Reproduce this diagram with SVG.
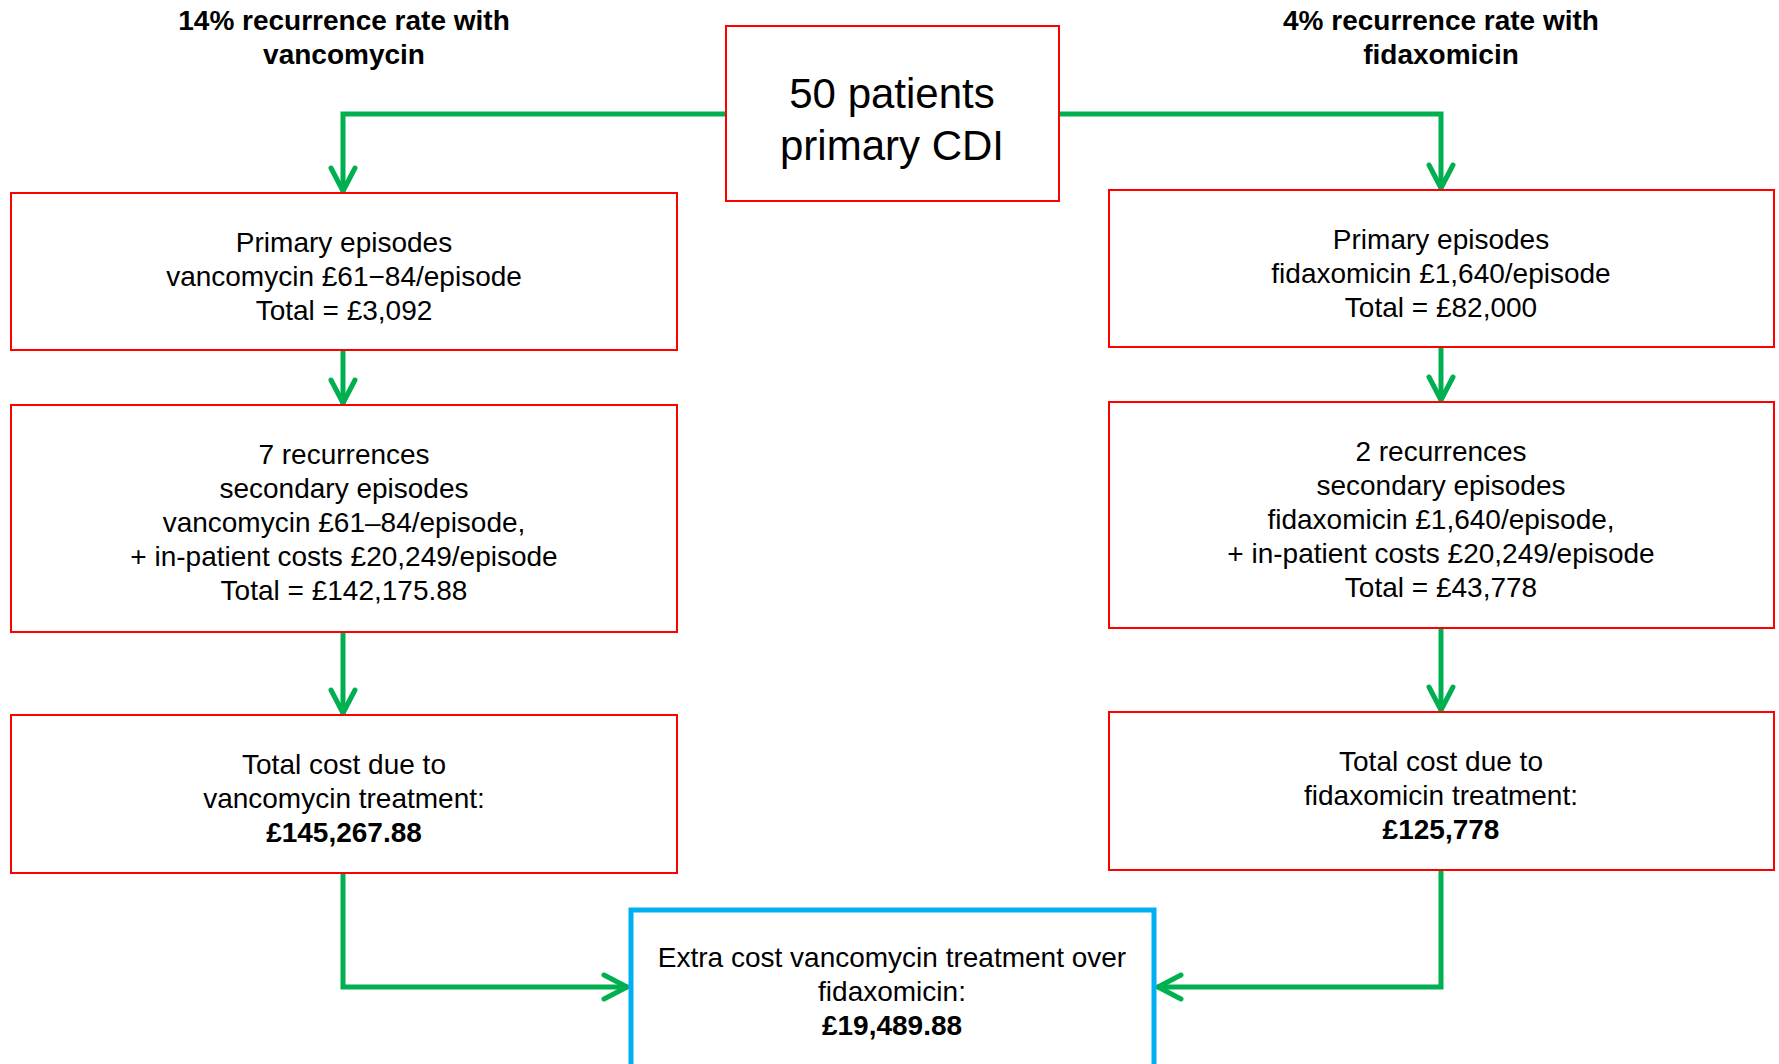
<svg xmlns="http://www.w3.org/2000/svg" width="1779" height="1064" viewBox="0 0 1779 1064">
<style>
.box{fill:#fff;stroke:#FF0000;stroke-width:2}
.blue{fill:#fff;stroke:#00B0F0;stroke-width:5}
.t{font-family:"Liberation Sans",Arial,sans-serif;font-size:28px;fill:#000;text-anchor:middle}
.b{font-weight:bold}
.big{font-size:42px}
.c{fill:none;stroke:#00B050;stroke-width:5;marker-end:url(#ah)}
</style>
<defs>
<marker id="ah" markerUnits="userSpaceOnUse" markerWidth="40" markerHeight="40" viewBox="-30 -20 40 40" refX="0" refY="0" orient="auto" overflow="visible">
<path d="M-24,-12 L-1,0 L-24,12" fill="none" stroke="#00B050" stroke-width="5" stroke-linecap="round" stroke-linejoin="round"/>
</marker>
</defs>
<rect width="1779" height="1064" fill="#fff"/>
<g id="connectors">
<polyline class="c" points="726,114 343,114 343,192"/>
<polyline class="c" points="1059,114 1441,114 1441,189"/>
<polyline class="c" points="343,351 343,404"/>
<polyline class="c" points="1441,348 1441,401"/>
<polyline class="c" points="343,632 343,714"/>
<polyline class="c" points="1441,629 1441,711"/>
<polyline class="c" points="343,873 343,987 628,987"/>
<polyline class="c" points="1441,870 1441,987 1157,987"/>
</g>
<g id="header-left"><text class="t b" x="344" y="30">14% recurrence rate with</text><text class="t b" x="344" y="64">vancomycin</text></g>
<g id="header-right"><text class="t b" x="1441" y="30">4% recurrence rate with</text><text class="t b" x="1441" y="64">fidaxomicin</text></g>
<g id="start"><rect class="box" x="726" y="26" width="333" height="175"/><text class="t big" x="892" y="108">50 patients</text><text class="t big" x="892" y="160">primary CDI</text></g>
<g id="v-primary"><rect class="box" x="11" y="193" width="666" height="157"/><text class="t" x="344" y="252">Primary episodes</text><text class="t" x="344" y="286">vancomycin £61−84/episode</text><text class="t" x="344" y="320">Total = £3,092</text></g>
<g id="f-primary"><rect class="box" x="1109" y="190" width="665" height="157"/><text class="t" x="1441" y="249">Primary episodes</text><text class="t" x="1441" y="283">fidaxomicin £1,640/episode</text><text class="t" x="1441" y="317">Total = £82,000</text></g>
<g id="v-secondary"><rect class="box" x="11" y="405" width="666" height="227"/><text class="t" x="344" y="464">7 recurrences</text><text class="t" x="344" y="498">secondary episodes</text><text class="t" x="344" y="532">vancomycin £61–84/episode,</text><text class="t" x="344" y="566">+ in-patient costs £20,249/episode</text><text class="t" x="344" y="600">Total = £142,175.88</text></g>
<g id="f-secondary"><rect class="box" x="1109" y="402" width="665" height="226"/><text class="t" x="1441" y="461">2 recurrences</text><text class="t" x="1441" y="495">secondary episodes</text><text class="t" x="1441" y="529">fidaxomicin £1,640/episode,</text><text class="t" x="1441" y="563">+ in-patient costs £20,249/episode</text><text class="t" x="1441" y="597">Total = £43,778</text></g>
<g id="v-total"><rect class="box" x="11" y="715" width="666" height="158"/><text class="t" x="344" y="774">Total cost due to</text><text class="t" x="344" y="808">vancomycin treatment:</text><text class="t b" x="344" y="842">£145,267.88</text></g>
<g id="f-total"><rect class="box" x="1109" y="712" width="665" height="158"/><text class="t" x="1441" y="771">Total cost due to</text><text class="t" x="1441" y="805">fidaxomicin treatment:</text><text class="t b" x="1441" y="839">£125,778</text></g>
<g id="extra"><rect class="blue" x="631" y="910" width="523" height="160"/><text class="t" x="892" y="967">Extra cost vancomycin treatment over</text><text class="t" x="892" y="1001">fidaxomicin:</text><text class="t b" x="892" y="1035">£19,489.88</text></g>
</svg>
